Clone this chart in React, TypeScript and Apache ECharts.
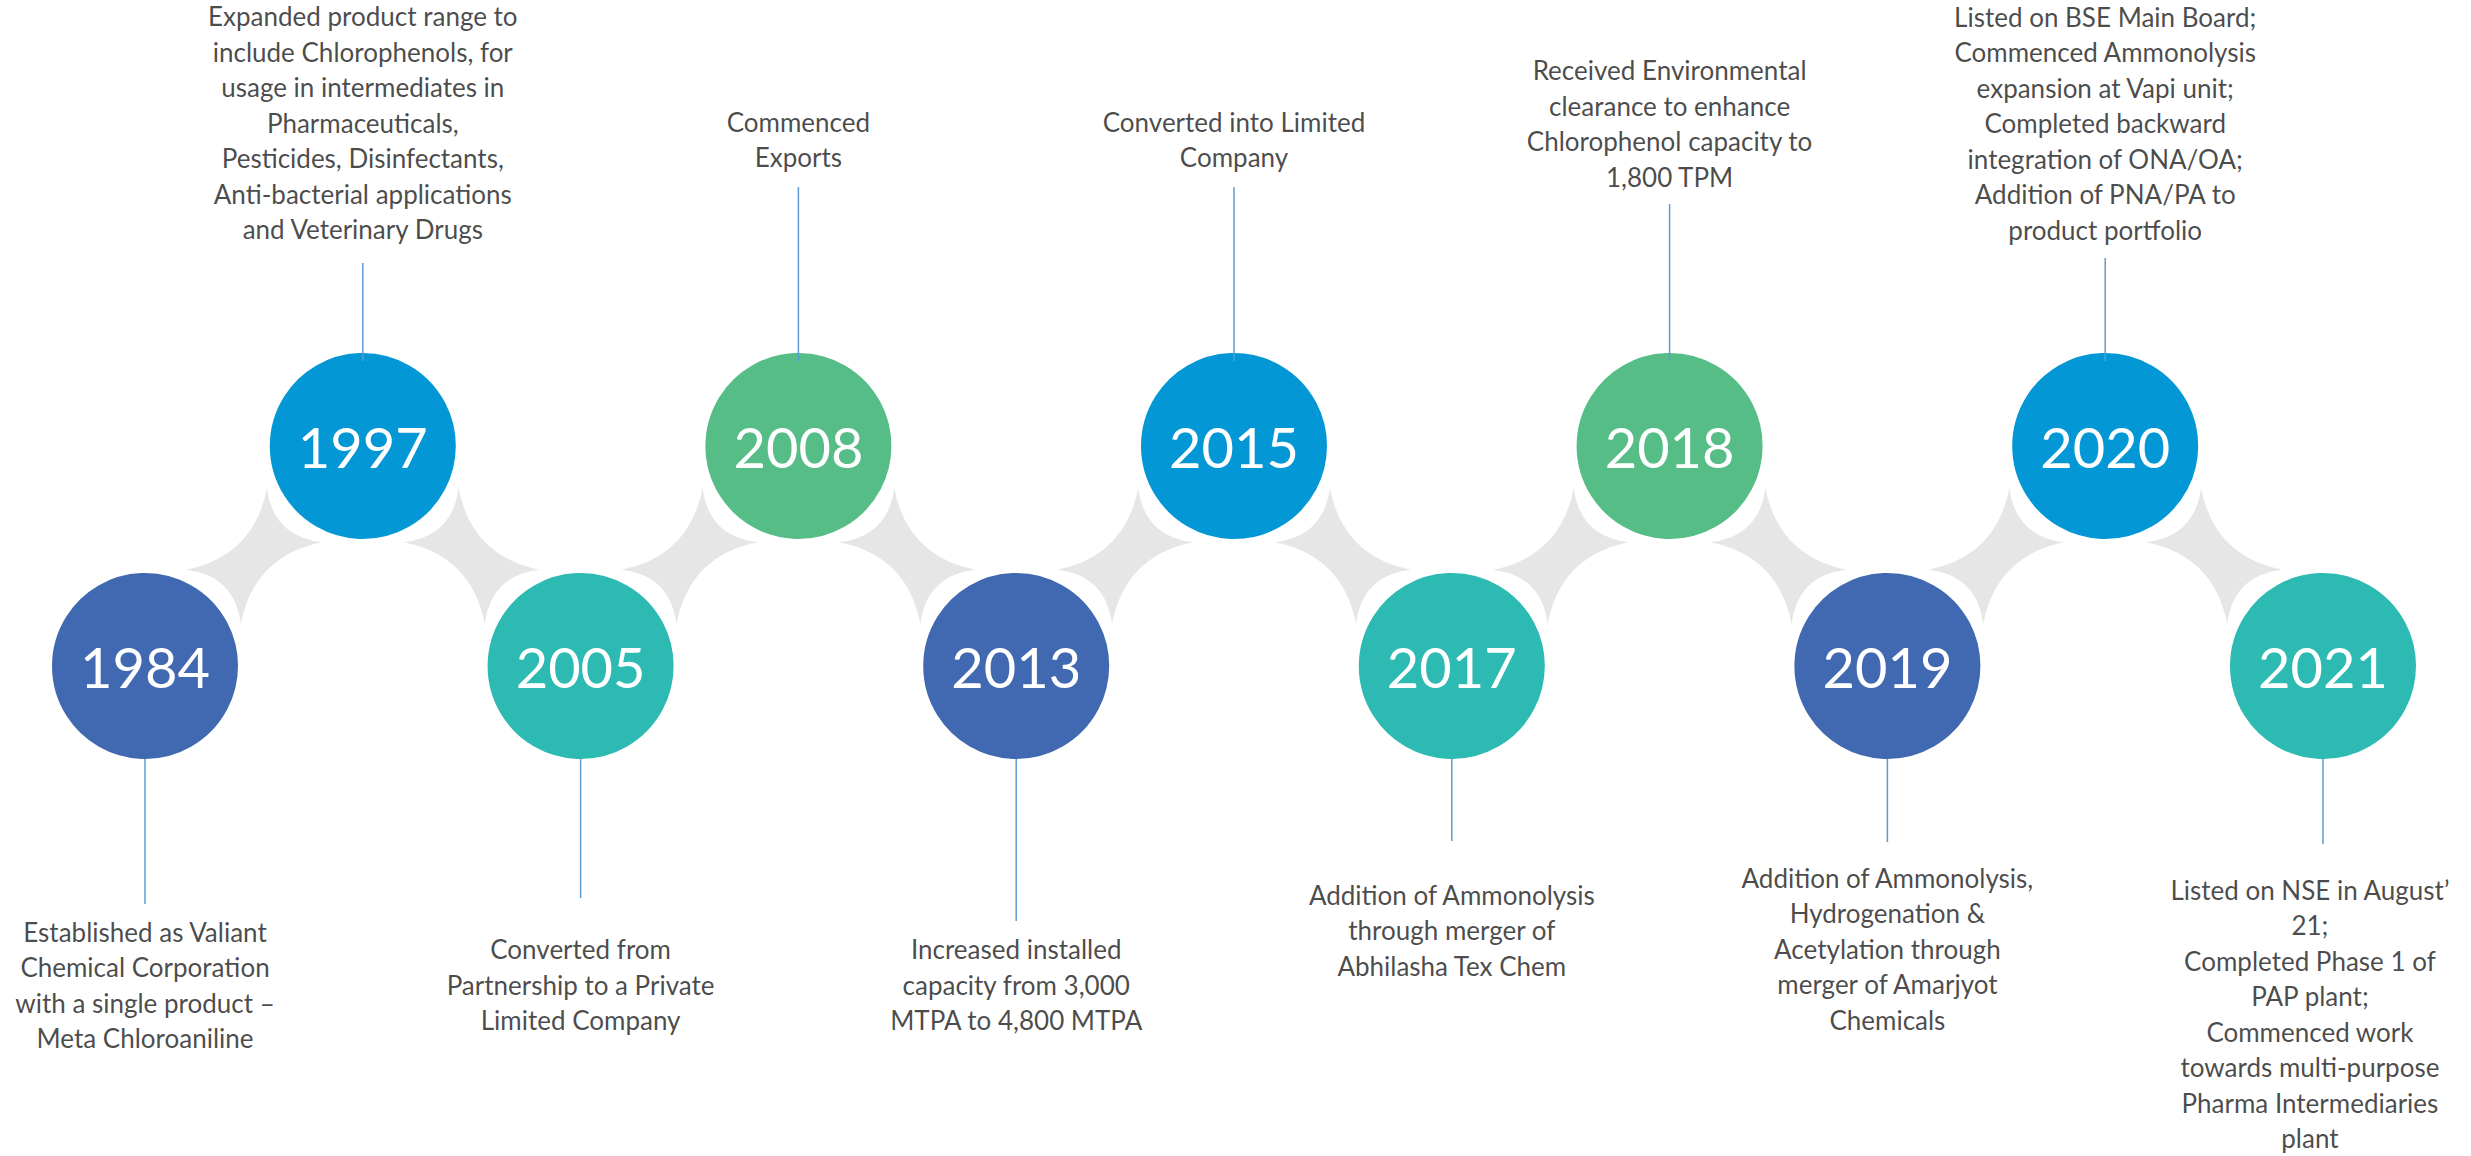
import React, { useEffect, useRef } from "react";
import * as echarts from "echarts";

// ---- data ----
const years = ["1984", "1997", "2005", "2008", "2013", "2015", "2017", "2018", "2019", "2020", "2021"];
// row of each milestone: 1 = upper row, 0 = lower row
const rows = [0, 1, 0, 1, 0, 1, 0, 1, 0, 1, 0];
// where each connector stem ends (in row units)
const stemEnds = [-1.082, 1.832, -1.055, 2.177, -1.159, 2.177, -0.795, 2.1, -0.8, 1.855, -0.809];
// horizontal / vertical centre of each description block (in axis units)
const textX = [0, 1, 2, 3, 4, 5, 6, 7, 8, 9, 9.94];
const textCenters = [-1.45, 2.47, -1.448, 2.393, -1.448, 2.393, -1.202, 2.466, -1.286, 2.468, -1.582];
const descriptions = [
  ["Established as Valiant", "Chemical Corporation", "with a single product –", "Meta Chloroaniline"],
  [
    "Expanded product range to",
    "include Chlorophenols, for",
    "usage in intermediates in",
    "Pharmaceuticals,",
    "Pesticides, Disinfectants,",
    "Anti-bacterial applications",
    "and Veterinary Drugs",
  ],
  ["Converted from", "Partnership to a Private", "Limited Company"],
  ["Commenced", "Exports"],
  ["Increased installed", "capacity from 3,000", "MTPA to 4,800 MTPA"],
  ["Converted into Limited", "Company"],
  ["Addition of Ammonolysis", "through merger of", "Abhilasha Tex Chem"],
  ["Received Environmental", "clearance to enhance", "Chlorophenol capacity to", "1,800 TPM"],
  ["Addition of Ammonolysis,", "Hydrogenation &", "Acetylation through", "merger of Amarjyot", "Chemicals"],
  [
    "Listed on BSE Main Board;",
    "Commenced Ammonolysis",
    "expansion at Vapi unit;",
    "Completed backward",
    "integration of ONA/OA;",
    "Addition of PNA/PA to",
    "product portfolio",
  ],
  [
    "Listed on NSE in August’",
    "21;",
    "Completed Phase 1 of",
    "PAP plant;",
    "Commenced work",
    "towards multi-purpose",
    "Pharma Intermediaries",
    "plant",
  ],
];

// ---- styles ----
const palette = ["#4169B1", "#0397D6", "#2CBAB3", "#56BD87"];
const STAR_COLOR = "#E6E6E6";
const STEM_COLOR = "#5B9BD5";
const TEXT_FONT = "Lato";

export default function App() {
  const ref = useRef<HTMLDivElement>(null);

  useEffect(() => {
    if (!ref.current) return;
    const chart = echarts.init(ref.current, undefined, { renderer: "svg" });

    const circleData = years.map((y, i) => ({
      value: [i, rows[i]],
      itemStyle: { color: palette[i % palette.length] },
    }));
    const stemData = years.map((_, i) => [i, rows[i], stemEnds[i]]);
    const starData = years.slice(0, -1).map((_, i) => [i + 0.5, 0.5, i]);
    const textData = years.map((_, i) => [textX[i], textCenters[i]]);

    const option: any = {
      animation: false,
      backgroundColor: "#ffffff",
      grid: { left: 145, right: 148, top: 446, bottom: 490 },
      xAxis: { type: "value", min: 0, max: 10, show: false },
      yAxis: { type: "value", min: 0, max: 1, show: false },
      tooltip: { show: false },
      series: [
        {
          type: "custom",
          name: "connectors",
          silent: true,
          clip: false,
          z: 1,
          data: starData,
          encode: { x: 0, y: 1 },
          renderItem: (params: any, api: any) => {
            const c = api.coord([api.value(0), api.value(1)]);
            const k = api.value(2);
            const a = api.coord([k, rows[k]]);
            const b = api.coord([k + 1, rows[k + 1]]);
            let dx = b[0] - a[0];
            let dy = b[1] - a[1];
            const len = Math.sqrt(dx * dx + dy * dy);
            dx /= len;
            dy /= len;
            const px = -dy;
            const py = dx;
            const L = 57.5;
            const W = 38.5;
            const pt = (al: number, ac: number) => [c[0] + al * dx + ac * px, c[1] + al * dy + ac * py];
            const t1 = pt(L, W);
            const t2 = pt(L, -W);
            const t3 = pt(-L, -W);
            const t4 = pt(-L, W);
            const e1 = pt(L - 30, 0);
            const e2 = pt(-L + 30, 0);
            const f = (p: number[]) => `${p[0].toFixed(2)} ${p[1].toFixed(2)}`;
            const d =
              `M ${f(t1)} Q ${f(e1)} ${f(t2)} Q ${f(c)} ${f(t3)} ` +
              `Q ${f(e2)} ${f(t4)} Q ${f(c)} ${f(t1)} Z`;
            return {
              type: "path",
              shape: { pathData: d },
              style: { fill: STAR_COLOR, stroke: "none" },
            };
          },
        },
        {
          type: "scatter",
          name: "milestones",
          silent: true,
          clip: false,
          z: 2,
          symbol: "circle",
          symbolSize: 193,
          data: circleData,
          itemStyle: { borderColor: "#ffffff", borderWidth: 7, opacity: 1 },
          label: {
            show: true,
            position: "inside",
            formatter: (p: any) => years[p.dataIndex],
            color: "#ffffff",
            fontFamily: TEXT_FONT,
            fontSize: 56,
            fontWeight: 400,
          },
        },
        {
          type: "custom",
          name: "stems",
          silent: true,
          clip: false,
          z: 3,
          data: stemData,
          encode: { x: 0, y: 1 },
          renderItem: (params: any, api: any) => {
            const p0 = api.coord([api.value(0), api.value(1)]);
            const p1 = api.coord([api.value(0), api.value(2)]);
            const up = p1[1] < p0[1];
            const start = p0[1] + (up ? -85 : 93);
            return {
              type: "line",
              shape: { x1: p0[0], y1: start, x2: p1[0], y2: p1[1] },
              style: { stroke: STEM_COLOR, lineWidth: 1.5 },
            };
          },
        },
        {
          type: "scatter",
          name: "descriptions",
          silent: true,
          clip: false,
          z: 4,
          symbolSize: 1,
          data: textData,
          itemStyle: { color: "rgba(0,0,0,0)" },
          label: {
            show: true,
            position: "inside",
            formatter: (p: any) => descriptions[p.dataIndex].join("\n"),
            color: "#1a1a1a",
            fontFamily: TEXT_FONT,
            fontSize: 26,
            fontWeight: 400,
            lineHeight: 35.5,
            align: "center",
            verticalAlign: "middle",
          },
        },
      ],
    };

    chart.setOption(option);
    return () => chart.dispose();
  }, []);

  return (
    <div
      ref={ref}
      style={{ position: "absolute", left: 0, top: 0, width: 2471, height: 1156, background: "#fff" }}
    />
  );
}
